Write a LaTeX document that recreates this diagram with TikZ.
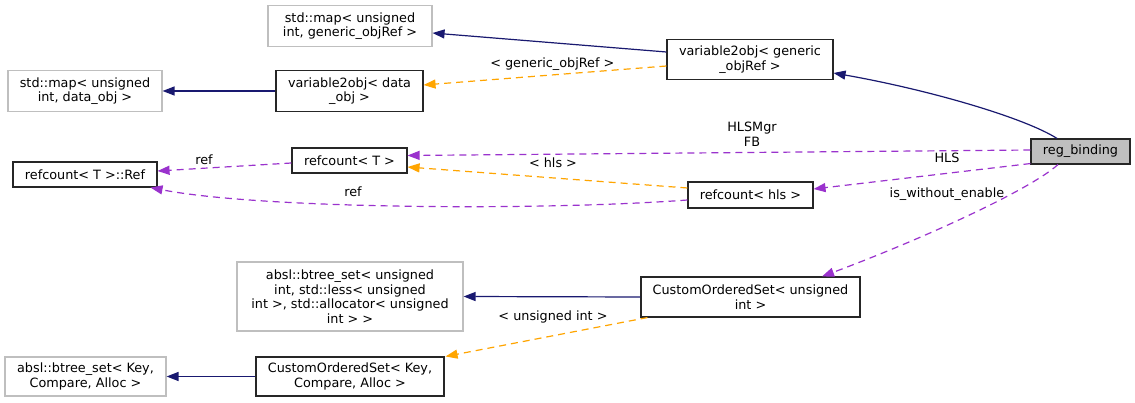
\documentclass[tikz,border=0pt]{standalone}
\usepackage{fontspec}
\setmainfont{DejaVu Sans}
\usetikzlibrary{arrows.meta}
\definecolor{navyc}{HTML}{191970}
\definecolor{orangec}{HTML}{FFA500}
\definecolor{purplec}{HTML}{9A32CD}
\definecolor{graybox}{HTML}{BFBFBF}
\begin{document}
\begin{tikzpicture}[x=1pt,y=-1pt,
  txt/.style={font=\fontsize{12.8}{14.5}\selectfont},
  cls/.style={txt, draw=black!85, line width=1.1pt, fill=white, inner sep=0pt, align=center},
  ext/.style={cls, draw=graybox},
  cur/.style={cls, fill=graybox},
  tip/.style={-{Triangle[length=12pt,width=9pt]}},
  inh/.style={tip, draw=navyc, line width=1.2pt},
  tmpl/.style={tip, draw=orangec, line width=1.2pt, dash pattern=on 7pt off 5pt},
  use/.style={tip, draw=purplec, line width=1.2pt, dash pattern=on 7pt off 5pt},
  lbl/.style={txt, inner sep=0pt, align=center}]
\useasboundingbox[fill=white] (0,0) rectangle (1135,403);

% nodes
\node[ext, minimum width=164pt, minimum height=41pt] (mapg) at (350,26) {std::map< unsigned\\ int, generic\_objRef >};
\node[cls, minimum width=166pt, minimum height=40pt] (v2g) at (750,59.5) {variable2obj< generic\\\_objRef >};
\node[ext, minimum width=154pt, minimum height=41pt] (mapd) at (85,91) {std::map< unsigned\\int, data\_obj >};
\node[cls, minimum width=147pt, minimum height=41pt] (v2d) at (349.5,91) {variable2obj< data\\\_obj >};
\node[cls, minimum width=144pt, minimum height=25pt] (ref) at (85,174.5) {refcount< T >::Ref};
\node[cls, minimum width=115pt, minimum height=25pt] (rcT) at (349.5,160.5) {refcount< T >};
\node[cur, minimum width=99pt, minimum height=25pt] (reg) at (1080.5,151.5) {reg\_binding};
\node[cls, minimum width=125pt, minimum height=26pt] (rch) at (750.5,195) {refcount< hls >};
\node[ext, minimum width=226pt, minimum height=69pt] (absu) at (350,296.5) {absl::btree\_set< unsigned\\ int, std::less< unsigned\\ int >, std::allocator< unsigned\\ int > >};
\node[cls, minimum width=219pt, minimum height=40pt] (cosu) at (750.5,297) {CustomOrderedSet< unsigned\\ int >};
\node[ext, minimum width=161pt, minimum height=39pt] (absk) at (85.5,376.5) {absl::btree\_set< Key,\\ Compare, Alloc >};
\node[cls, minimum width=188pt, minimum height=39pt] (cosk) at (350,376.5) {CustomOrderedSet< Key,\\ Compare, Alloc >};

% edges
\draw[inh] ([yshift=7.5pt]v2g.west) -- ([yshift=-7pt]mapg.east);
\draw[inh] ([xshift=-23.5pt]reg.north) .. controls (1025,118) and (930,90) .. ([yshift=-13.5pt]v2g.east);
\draw[tmpl] ([yshift=-6.5pt]v2g.west) -- node[lbl, pos=0.47, yshift=11pt] (l1) {< generic\_objRef >} ([yshift=6pt]v2d.east);
\draw[inh] (v2d.west) -- (mapd.east);
\draw[use] ([yshift=1.5pt]reg.west) -- ([yshift=5pt]rcT.east);
\node[lbl] (l2) at (752,134.5) {HLSMgr\\FB};
\draw[use] ([yshift=1pt]reg.south west) -- ([yshift=6pt]rch.east);
\node[lbl] (l3) at (947,158) {HLS};
\draw[tmpl] ([yshift=7pt]rch.west) -- ([yshift=-6.5pt]rcT.east);
\node[lbl] (l4) at (553,163) {< hls >};
\draw[use] ([yshift=-2.5pt]rcT.west) -- ([yshift=3.5pt]ref.east);
\node[lbl] (l5) at (204,160) {ref};
\draw[use] ([yshift=-5pt]rch.west) .. controls (540,211) and (260,209) .. ([xshift=-7pt]ref.south east);
\node[lbl] (l6) at (353,192) {ref};
\draw[use] ([xshift=-22.5pt]reg.south) .. controls (1030,190) and (920,240) .. ([xshift=71.5pt]cosu.north);
\node[lbl] (l7) at (947,194) {is\_without\_enable};
\draw[inh] (cosu.west) -- (absu.east);
\draw[tmpl] ([xshift=7pt]cosu.south west) -- ([xshift=1pt]cosk.north east);
\node[lbl] (l8) at (553,317) {< unsigned int >};
\draw[inh] (cosk.west) -- (absk.east);
\end{tikzpicture}
\end{document}
